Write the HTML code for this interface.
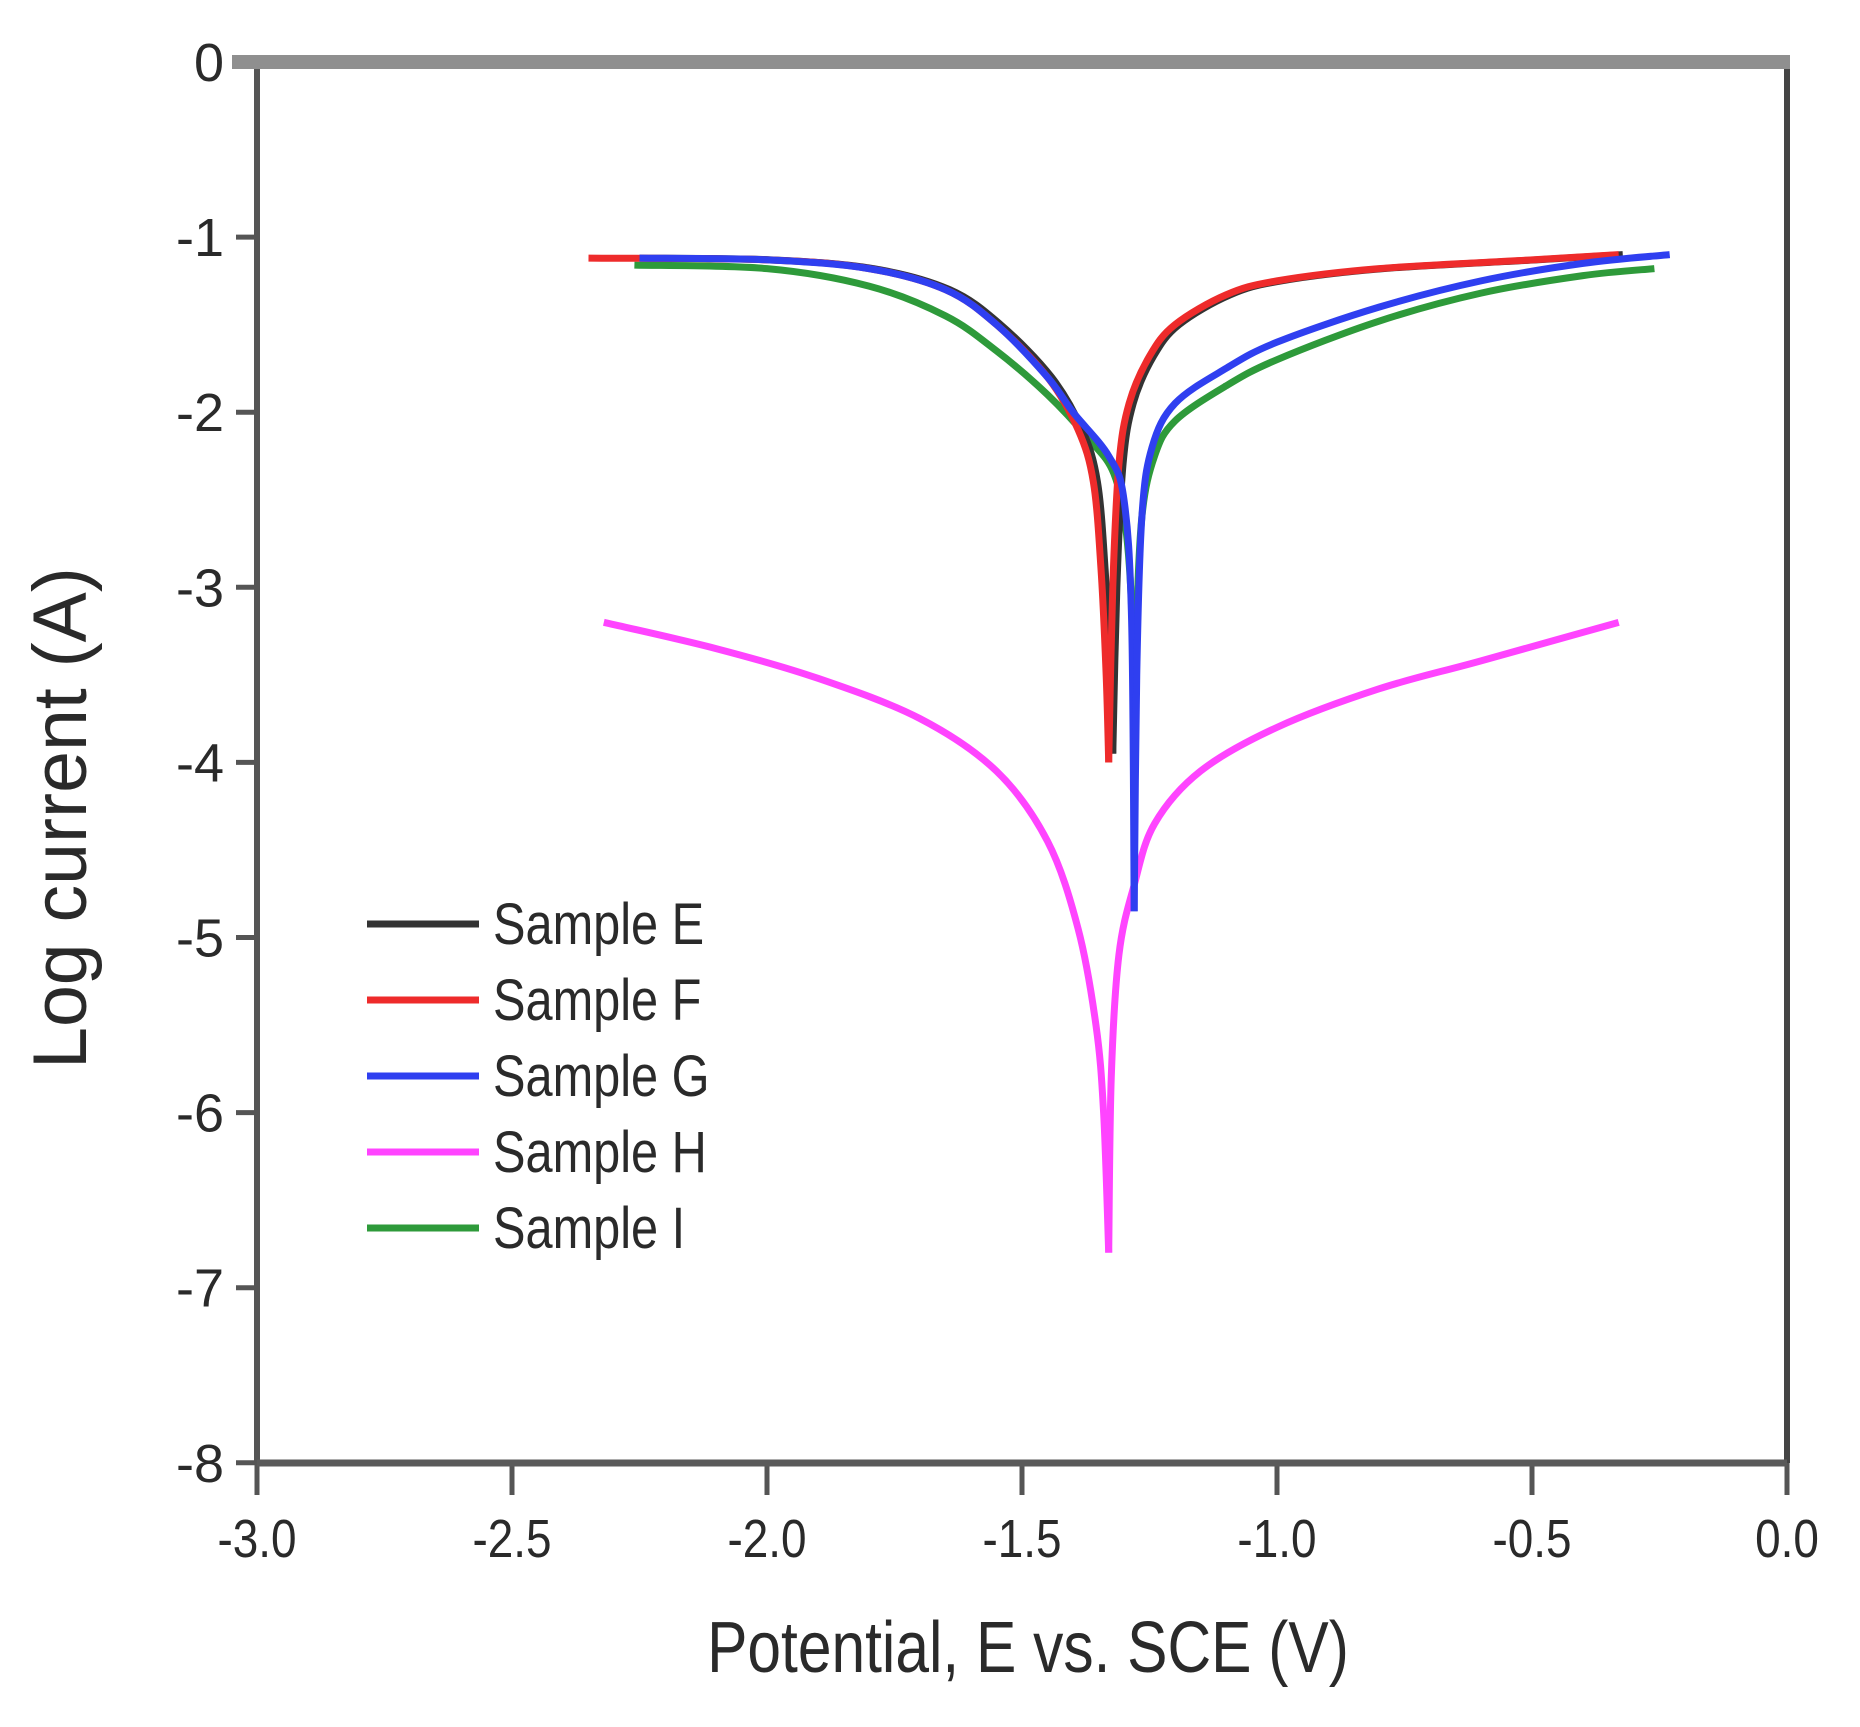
<!DOCTYPE html>
<html><head><meta charset="utf-8"><style>
html,body{margin:0;padding:0;background:#fff;}
svg text{font-family:"Liberation Sans",sans-serif;fill:#2a2a2a;}
</style></head><body>
<svg id="s" width="1860" height="1722" viewBox="0 0 1860 1722" xmlns="http://www.w3.org/2000/svg">
<rect width="1860" height="1722" fill="#fff"/>
<g id="ticks" stroke="#555" stroke-width="5"></g>
<line x1="257" y1="62" x2="257" y2="1463" stroke="#555" stroke-width="6"/>
<line x1="1787" y1="62" x2="1787" y2="1463" stroke="#444" stroke-width="6"/>
<line x1="257" y1="1463" x2="1787" y2="1463" stroke="#5a5a5a" stroke-width="7"/>
<line x1="232" y1="62" x2="1790" y2="62" stroke="#8f8f8f" stroke-width="14"/>
<g id="curves" fill="none" stroke-width="7" stroke-linejoin="round" stroke-linecap="butt"></g>
<g id="labels" font-size="54" text-anchor="end"></g>
<g font-size="58">
<line x1="367" y1="924" x2="479" y2="924" stroke="#333" stroke-width="7"/>
<line x1="367" y1="1000" x2="479" y2="1000" stroke="#ee2b2b" stroke-width="7"/>
<line x1="367" y1="1076" x2="479" y2="1076" stroke="#2f3ff0" stroke-width="7"/>
<line x1="367" y1="1152" x2="479" y2="1152" stroke="#ff44ff" stroke-width="7"/>
<line x1="367" y1="1228" x2="479" y2="1228" stroke="#2e9a3a" stroke-width="7"/>
<g transform="translate(493,0) scale(0.84,1)">
<text x="0" y="944">Sample E</text>
<text x="0" y="1020">Sample F</text>
<text x="0" y="1096">Sample G</text>
<text x="0" y="1172">Sample H</text>
<text x="0" y="1248">Sample I</text>
</g></g>
<text font-size="72" text-anchor="middle" transform="translate(1028,1672) scale(0.84,1)">Potential, E vs. SCE (V)</text>
<text font-size="76" text-anchor="middle" transform="translate(86,818) rotate(-90) scale(0.99,1)">Log current (A)</text>
</svg>
<script>
var NS="http://www.w3.org/2000/svg";
function X(v){return 257+(v+3)*510;}
function Y(v){return 62-v*175.1;}
var tk=document.getElementById('ticks'),lb=document.getElementById('labels');
for(var i=0;i<=8;i++){var y=Y(-i);
 var l=document.createElementNS(NS,'line');l.setAttribute('x1',236);l.setAttribute('x2',257);l.setAttribute('y1',y);l.setAttribute('y2',y);tk.appendChild(l);
 var t=document.createElementNS(NS,'text');t.setAttribute('x',224);t.setAttribute('y',y+19);t.textContent=i==0?'0':'-'+i;lb.appendChild(t);}
for(var j=0;j<=6;j++){var v=-3+j*0.5,x=X(v);
 var l=document.createElementNS(NS,'line');l.setAttribute('x1',x);l.setAttribute('x2',x);l.setAttribute('y1',1463);l.setAttribute('y2',1495);tk.appendChild(l);
 var t=document.createElementNS(NS,'text');t.setAttribute('x',x);t.setAttribute('y',1557);t.setAttribute('text-anchor','middle');
 t.setAttribute('transform','translate('+x+',0) scale(0.85,1) translate('+(-x)+',0)');
 t.textContent=(v==0?'0.0':v.toFixed(1));lb.appendChild(t);}
function path(pts){var p=pts.map(function(a){return[X(a[0]),Y(a[1])];});
 var d='M'+p[0][0]+','+p[0][1];
 for(var i=0;i<p.length-1;i++){var p0=p[i-1]||p[i],p1=p[i],p2=p[i+1],p3=p[i+2]||p2;
  var c1=[p1[0]+(p2[0]-p0[0])/6,p1[1]+(p2[1]-p0[1])/6],c2=[p2[0]-(p3[0]-p1[0])/6,p2[1]-(p3[1]-p1[1])/6];
  d+=' C'+c1+' '+c2+' '+p2;}
 return d;}
var cv=document.getElementById('curves');
function add(pts,c){var e=document.createElementNS(NS,'path');e.setAttribute('d',path(pts));e.setAttribute('stroke',c);cv.appendChild(e);}
var H=[[-2.32,-3.2],[-2.1,-3.35],[-1.9,-3.52],[-1.7,-3.75],[-1.55,-4.05],[-1.45,-4.45],[-1.39,-4.95],[-1.355,-5.5],[-1.34,-6.0],[-1.33,-6.8]];
var Hr=[[-1.33,-6.8],[-1.325,-5.8],[-1.31,-5.1],[-1.28,-4.7],[-1.24,-4.35],[-1.15,-4.05],[-1.0,-3.8],[-0.8,-3.58],[-0.6,-3.42],[-0.33,-3.2]];
add(H,'#ff44ff');add(Hr,'#ff44ff');
var Il=[[-2.26,-1.16],[-2.0,-1.18],[-1.8,-1.28],[-1.65,-1.45],[-1.55,-1.65],[-1.45,-1.9],[-1.37,-2.15],[-1.32,-2.35],[-1.295,-2.7],[-1.283,-3.3],[-1.28,-4.35]];
var Ir=[[-1.28,-4.35],[-1.276,-3.3],[-1.265,-2.6],[-1.24,-2.25],[-1.2,-2.05],[-1.1,-1.85],[-1.0,-1.7],[-0.8,-1.48],[-0.6,-1.32],[-0.4,-1.22],[-0.26,-1.18]];
var Gl=[[-2.25,-1.12],[-2.0,-1.13],[-1.8,-1.18],[-1.65,-1.3],[-1.55,-1.5],[-1.45,-1.8],[-1.4,-2.0],[-1.33,-2.25],[-1.3,-2.5],[-1.285,-3.2],[-1.28,-4.85]];
var Gr=[[-1.28,-4.85],[-1.275,-3.5],[-1.265,-2.6],[-1.245,-2.2],[-1.2,-1.95],[-1.1,-1.75],[-1.0,-1.6],[-0.8,-1.4],[-0.6,-1.25],[-0.4,-1.15],[-0.23,-1.1]];
var Fl=[[-2.35,-1.12],[-2.0,-1.13],[-1.8,-1.18],[-1.65,-1.3],[-1.55,-1.5],[-1.45,-1.8],[-1.39,-2.1],[-1.36,-2.4],[-1.345,-2.9],[-1.335,-3.5],[-1.33,-4.0]];
var Fr=[[-1.33,-4.0],[-1.322,-3.0],[-1.31,-2.3],[-1.29,-1.95],[-1.25,-1.68],[-1.2,-1.5],[-1.1,-1.33],[-1.0,-1.25],[-0.8,-1.18],[-0.5,-1.13],[-0.33,-1.1]];
var El=Fl.slice(1).map(function(a){return[a[0]+0.008,a[1]];});El.unshift([-2.25,-1.12]);El[El.length-1][1]=-3.95;
var Er=Fr.map(function(a){return[a[0]+0.008,a[1]];});Er[0][1]=-3.95;
add(Il,'#2e9a3a');add(Ir,'#2e9a3a');
add(El,'#333');add(Er,'#333');
add(Fl,'#ee2b2b');add(Fr,'#ee2b2b');
add(Gl,'#2f3ff0');add(Gr,'#2f3ff0');
</script>
</body></html>
